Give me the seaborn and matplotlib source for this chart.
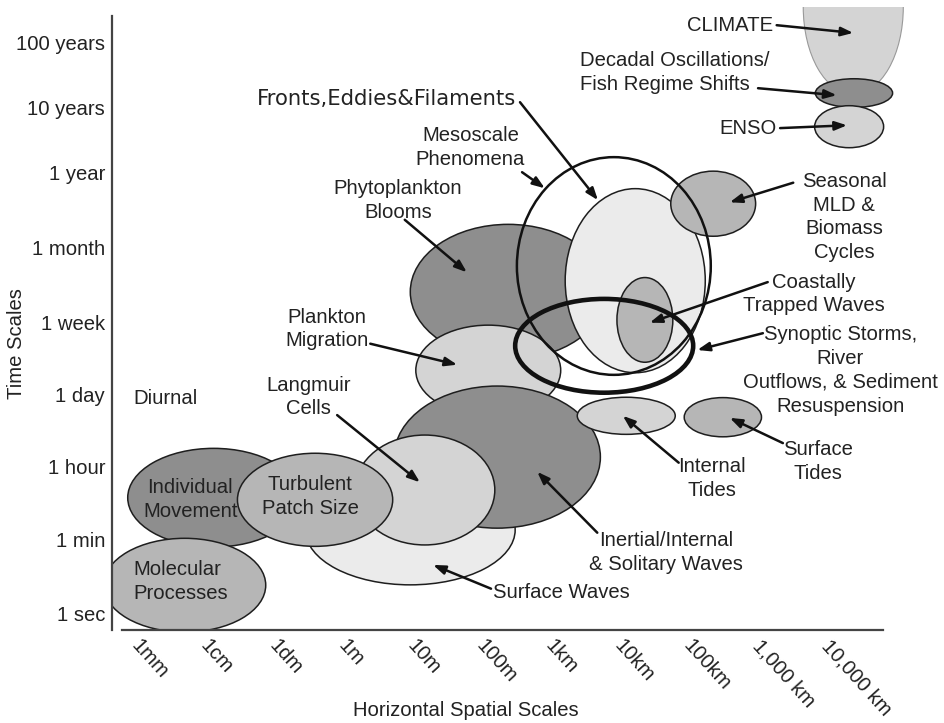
import matplotlib
matplotlib.use('Agg')
import matplotlib.pyplot as plt
from matplotlib.patches import Ellipse
import seaborn as sns


# x axis: log10 of the horizontal scale in metres
x_ticks = [-3, -2, -1, 0, 1, 2, 3, 4, 5, 6, 7]
x_labels = ['1mm', '1cm', '1dm', '1m', '10m', '100m', '1km', '10km',
            '100km', '1,000 km', '10,000 km']

# y axis: schematic time-scale units (ticks are not evenly spaced)
y_ticks = [0.23, 1.29, 2.34, 3.36, 4.39, 5.46, 6.53, 7.47, 8.40]
y_labels = ['1 sec', '1 min', '1 hour', '1 day', '1 week', '1 month',
            '1 year', '10 years', '100 years']

# filled processes, in drawing order
ell_names = ['Phytoplankton Blooms', 'Plankton Migration', 'Surface Waves',
             'Inertial/Internal & Solitary Waves', 'Langmuir Cells',
             'Individual Movement', 'Turbulent Patch Size', 'Molecular Processes',
             'Fronts, Eddies & Filaments', 'Coastally Trapped Waves',
             'Internal Tides', 'Surface Tides', 'Seasonal MLD & Biomass Cycles',
             'CLIMATE', 'Decadal Oscillations', 'ENSO']
ell_x = [2.41, 2.12, 0.99, 2.25, 1.20, -1.86, -0.39, -2.28,
         4.25, 4.39, 4.12, 5.52, 5.38, 7.41, 7.42, 7.35]
ell_y = [4.83, 3.71, 1.43, 2.47, 2.00, 1.89, 1.86, 0.64,
         4.99, 4.43, 3.06, 3.04, 6.09, 8.90, 7.67, 7.19]
ell_w = [2.84, 2.10, 3.04, 2.99, 2.03, 2.49, 2.25, 2.35,
         2.03, 0.81, 1.42, 1.12, 1.23, 1.45, 1.12, 1.00]
ell_h = [1.93, 1.29, 1.57, 2.03, 1.57, 1.41, 1.33, 1.34,
         2.63, 1.21, 0.53, 0.56, 0.93, 2.49, 0.41, 0.60]
ell_shade = ['dark', 'light', 'pale', 'dark', 'light', 'dark', 'mid', 'mid',
             'pale', 'mid', 'light', 'mid', 'mid', 'light', 'dark', 'light']

# unfilled outlines drawn on top
ring_names = ['Mesoscale Phenomena', 'Synoptic Storms']
ring_x = [3.94, 3.80]
ring_y = [5.20, 4.06]
ring_w = [2.81, 2.58]
ring_h = [3.11, 1.34]
ring_lw = [1.8, 3.3]

shade_colors = {'dark': '#8e8e8e', 'mid': '#b6b6b6',
                'light': '#d4d4d4', 'pale': '#ebebeb'}

# labels: text, position, alignment
lab_text = ['Fronts,Eddies&Filaments', 'Mesoscale\nPhenomena', 'Phytoplankton\nBlooms',
            'Plankton\nMigration', 'Langmuir\nCells', 'Diurnal',
            'Individual\nMovement', 'Turbulent\nPatch Size', 'Molecular\nProcesses',
            'Surface Waves', 'Inertial/Internal\n& Solitary Waves', 'Internal\nTides',
            'Surface\nTides', 'Synoptic Storms,\nRiver\nOutflows, & Sediment\nResuspension',
            'Coastally\nTrapped Waves', 'Seasonal\nMLD &\nBiomass\nCycles', 'ENSO',
            'Decadal Oscillations/\nFish Regime Shifts', 'CLIMATE']
lab_x = [0.64, 1.86, 0.81, -0.22, -0.49, -3.03, -2.20, -0.46, -3.03,
         2.19, 4.70, 5.36, 6.90, 7.22, 6.84, 7.28, 6.30, 3.45, 6.25]
lab_y = [7.59, 6.89, 6.14, 4.30, 3.33, 3.31, 1.86, 1.91, 0.69,
         0.54, 1.11, 2.16, 2.41, 3.71, 4.80, 5.90, 7.17, 7.97, 8.64]
lab_ha = ['center', 'center', 'center', 'center', 'center', 'left',
          'center', 'center', 'left', 'left', 'center', 'center',
          'center', 'center', 'center', 'center', 'right', 'left', 'right']

# arrows: start (near the label) -> tip (inside the process)
arr_x0 = [2.58, 2.61, 0.91, 0.41, -0.07, 2.16, 3.70, 4.88, 6.39, 6.10, 6.17, 6.54, 6.35, 6.03, 6.30]
arr_y0 = [7.54, 6.54, 5.86, 4.09, 3.07, 0.59, 1.39, 2.39, 2.67, 4.24, 4.97, 6.39, 7.17, 7.74, 8.64]
arr_x1 = [3.71, 2.94, 1.81, 1.67, 1.13, 1.32, 2.83, 4.07, 5.62, 5.15, 4.46, 5.62, 7.32, 7.17, 7.41]
arr_y1 = [6.14, 6.31, 5.11, 3.79, 2.11, 0.93, 2.26, 3.06, 3.03, 4.00, 4.39, 6.11, 7.21, 7.64, 8.53]


sns.set_theme(style='white')
plt.rcParams['font.family'] = ['Liberation Sans', 'DejaVu Sans']

fig = plt.figure(figsize=(9.44, 7.23), dpi=100)
ax = fig.add_axes([112 / 944, 93 / 723, 832 / 944, 623 / 723])
ax.set_xlim(-3.333, 8.725)
ax.set_ylim(0, 8.90)

for name, x, y, w, h, s in zip(ell_names, ell_x, ell_y, ell_w, ell_h, ell_shade):
    if name == 'CLIMATE':
        e = Ellipse((x, y), w, h, facecolor=shade_colors[s], edgecolor='#999999', lw=0.8)
    else:
        e = Ellipse((x, y), w, h, facecolor=shade_colors[s], edgecolor='#1e1e1e', lw=1.1)
    ax.add_patch(e)

for x, y, w, h, lw in zip(ring_x, ring_y, ring_w, ring_h, ring_lw):
    ax.add_patch(Ellipse((x, y), w, h, facecolor='none', edgecolor='#111111', lw=lw))

for x0, y0, x1, y1 in zip(arr_x0, arr_y0, arr_x1, arr_y1):
    ax.annotate('', xy=(x1, y1), xytext=(x0, y0),
                arrowprops=dict(arrowstyle='-|>,head_length=0.6,head_width=0.22',
                                lw=1.8, color='#111111', shrinkA=0, shrinkB=0))

for t, x, y, ha in zip(lab_text, lab_x, lab_y, lab_ha):
    if t.startswith('Fronts'):
        fam, fs = ['DejaVu Sans'], 15.2
    else:
        fam, fs = ['Liberation Sans', 'DejaVu Sans'], 14.6
    ax.text(x, y, t, ha=ha, va='center', multialignment=ha, linespacing=1.32,
            fontsize=fs, color='#222222', family=fam)

ax.set_xticks(x_ticks)
ax.set_xticklabels(x_labels, rotation=-48, rotation_mode='anchor', ha='left', va='center')
ax.set_yticks(y_ticks)
ax.set_yticklabels(y_labels)
ax.tick_params(axis='x', direction='in', length=9, width=1.3, color='#333333',
               labelsize=14.6, labelcolor='#222222', pad=9)
ax.tick_params(axis='y', direction='in', length=7, width=1.3, color='#333333',
               labelsize=14.6, labelcolor='#222222', pad=5)

sns.despine(ax=ax)
for sp in ['left', 'bottom']:
    ax.spines[sp].set_color('#444444')
    ax.spines[sp].set_linewidth(1.6)
ax.spines['left'].set_bounds(0, 8.77)
ax.spines['bottom'].set_bounds(-3.19, 7.84)

ax.set_xlabel('Horizontal Spatial Scales', fontsize=14.6, color='#222222')
ax.set_ylabel('Time Scales', fontsize=14.6, color='#222222')
ax.xaxis.set_label_coords(0.4255, -0.114)
ax.yaxis.set_label_coords(-0.103, 0.459)

fig.savefig('out.png', dpi=100)
